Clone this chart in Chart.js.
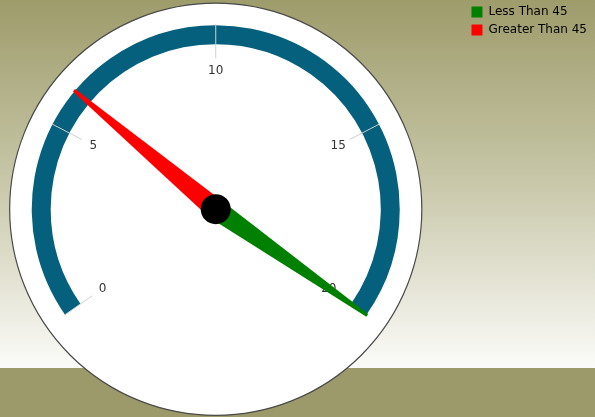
<!DOCTYPE html>
<html>
<head>
<meta charset="utf-8">
<script src="https://cdn.jsdelivr.net/npm/chart.js@4/dist/chart.umd.min.js"></script>
<style>
  html, body { margin: 0; padding: 0; background: #ffffff; overflow: hidden; }
  #wrap { width: 595px; height: 417px; position: relative; overflow: hidden; }
  /* the canvas is a little wider than the page so the dial sits left of the legend column */
  #gauge { position: absolute; left: -34px; top: 0; }
</style>
</head>
<body>
<div id="wrap"><canvas id="gauge" width="680" height="417"></canvas></div>
<script>
// Gauge scale
const gaugeMin = 0;
const gaugeMax = 20;
const tickValues = [0, 5, 10, 15, 20];
const tickLabels = ['0', '5', '10', '15', '20'];

// Needle series
const seriesNames = ['Less Than 45', 'Greater Than 45'];
const seriesColors = ['#008000', '#ff0000'];
const needleValues = [20, 6];

// Angle (radians) of a value along the drawn gauge arc
function valueAngle(arc, v) {
  const t = (v - gaugeMin) / (gaugeMax - gaugeMin);
  return arc.startAngle + t * (arc.endAngle - arc.startAngle);
}

const backdropPlugin = {
  id: 'backdrop',
  beforeDraw(chart) {
    const {ctx, width, height} = chart;
    ctx.save();
    const g = ctx.createLinearGradient(0, 0, 0, 368);
    g.addColorStop(0, '#9e9c6b');
    g.addColorStop(0.45, '#c4c3a3');
    g.addColorStop(1, '#fbfbf9');
    ctx.fillStyle = g;
    ctx.fillRect(0, 0, width, 368);
    ctx.fillStyle = '#9c9a6a';
    ctx.fillRect(0, 368, width, height - 368);
    ctx.restore();
  },
  beforeDatasetsDraw(chart) {
    const arc = chart.getDatasetMeta(0).data[0];
    if (!arc) return;
    const {ctx} = chart;
    ctx.save();
    ctx.beginPath();
    ctx.arc(arc.x, arc.y, arc.outerRadius * 1.12, 0, Math.PI * 2);
    ctx.fillStyle = '#ffffff';
    ctx.fill();
    ctx.lineWidth = 1.2;
    ctx.strokeStyle = '#4a4a4a';
    ctx.stroke();
    ctx.restore();
  },
  afterDatasetsDraw(chart) {
    const arc = chart.getDatasetMeta(0).data[0];
    if (!arc) return;
    const {ctx} = chart;
    const cx = arc.x, cy = arc.y, ro = arc.outerRadius, ri = arc.innerRadius;
    ctx.save();

    // tick marks and labels
    ctx.strokeStyle = '#cfcfcf';
    ctx.lineWidth = 1;
    ctx.fillStyle = '#333333';
    ctx.font = '12px "DejaVu Sans", sans-serif';
    ctx.textAlign = 'center';
    ctx.textBaseline = 'middle';
    tickValues.forEach((v, i) => {
      const a = valueAngle(arc, v);
      const c = Math.cos(a), s = Math.sin(a);
      ctx.beginPath();
      ctx.moveTo(cx + c * (ro + 1), cy + s * (ro + 1));
      ctx.lineTo(cx + c * (ri - 14), cy + s * (ri - 14));
      ctx.stroke();
      const rl = ri - 27;
      ctx.fillText(tickLabels[i], cx + c * rl, cy + s * rl);
    });

    // needles
    needleValues.forEach((v, i) => {
      const a = valueAngle(arc, v);
      const c = Math.cos(a), s = Math.sin(a);
      const px = -s, py = c;
      const base = 10.5, tip = 1.6, len = ro + 1;
      ctx.beginPath();
      ctx.moveTo(cx + px * base, cy + py * base);
      ctx.lineTo(cx + c * len + px * tip, cy + s * len + py * tip);
      ctx.lineTo(cx + c * len - px * tip, cy + s * len - py * tip);
      ctx.lineTo(cx - px * base, cy - py * base);
      ctx.closePath();
      ctx.fillStyle = seriesColors[i];
      ctx.fill();
    });

    // hub
    ctx.beginPath();
    ctx.arc(cx, cy, 15, 0, Math.PI * 2);
    ctx.fillStyle = '#000000';
    ctx.fill();
    ctx.restore();
  }
};

new Chart(document.getElementById('gauge'), {
  type: 'doughnut',
  data: {
    labels: ['Range'],
    datasets: [{
      data: [gaugeMax - gaugeMin],
      backgroundColor: '#05607e',
      borderWidth: 0
    }]
  },
  options: {
    responsive: false,
    animation: false,
    rotation: -125,
    circumference: 250,
    radius: 184,
    cutout: '89.7%',
    layout: { padding: { top: 0, bottom: 77, left: 0, right: 49 } },
    plugins: {
      tooltip: { enabled: false },
      legend: {
        display: true,
        position: 'right',
        align: 'start',
        labels: {
          boxWidth: 11,
          boxHeight: 11,
          padding: 6,
          color: '#222222',
          font: { family: '"DejaVu Sans", sans-serif', size: 12 },
          generateLabels: () => seriesNames.map((name, i) => ({
            text: name,
            fillStyle: seriesColors[i],
            strokeStyle: seriesColors[i],
            lineWidth: 0,
            hidden: false,
            index: i
          }))
        }
      }
    }
  },
  plugins: [backdropPlugin]
});
</script>
</body>
</html>
